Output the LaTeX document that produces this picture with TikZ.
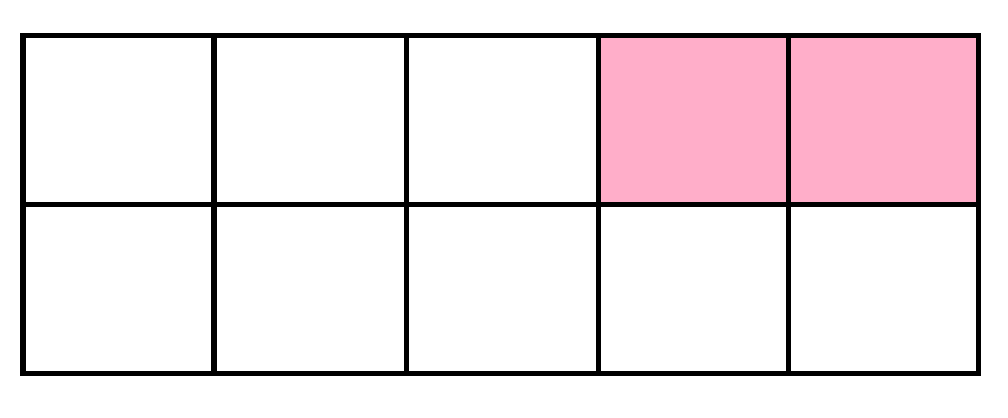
\documentclass[tikz,border=0pt]{standalone}
\usepackage{tikz}
\definecolor{cellpink}{RGB}{255,174,201}
\tikzset{
  gridline/.style={draw=black, line width=2.85pt, line join=miter},
  shadedcell/.style={fill=cellpink, draw=none}
}
\begin{document}
\begin{tikzpicture}[x=0.02cm, y=-0.02cm]
  % canvas
  \useasboundingbox (0,0) rectangle (1008,417);

  % shaded cells, top row right
  \fill[shadedcell] (598,35.5) rectangle (788.5,204.5);
  \fill[shadedcell] (788.5,35.5) rectangle (978.5,204.5);

  % inner lines
  \foreach \x in {214,406,598,788.5}
    \draw[gridline] (\x,35.5) -- (\x,373);
  \draw[gridline] (23,204.5) -- (978.5,204.5);

  % outer frame
  \draw[gridline] (23,35.5) rectangle (978.5,373);
\end{tikzpicture}
\end{document}
